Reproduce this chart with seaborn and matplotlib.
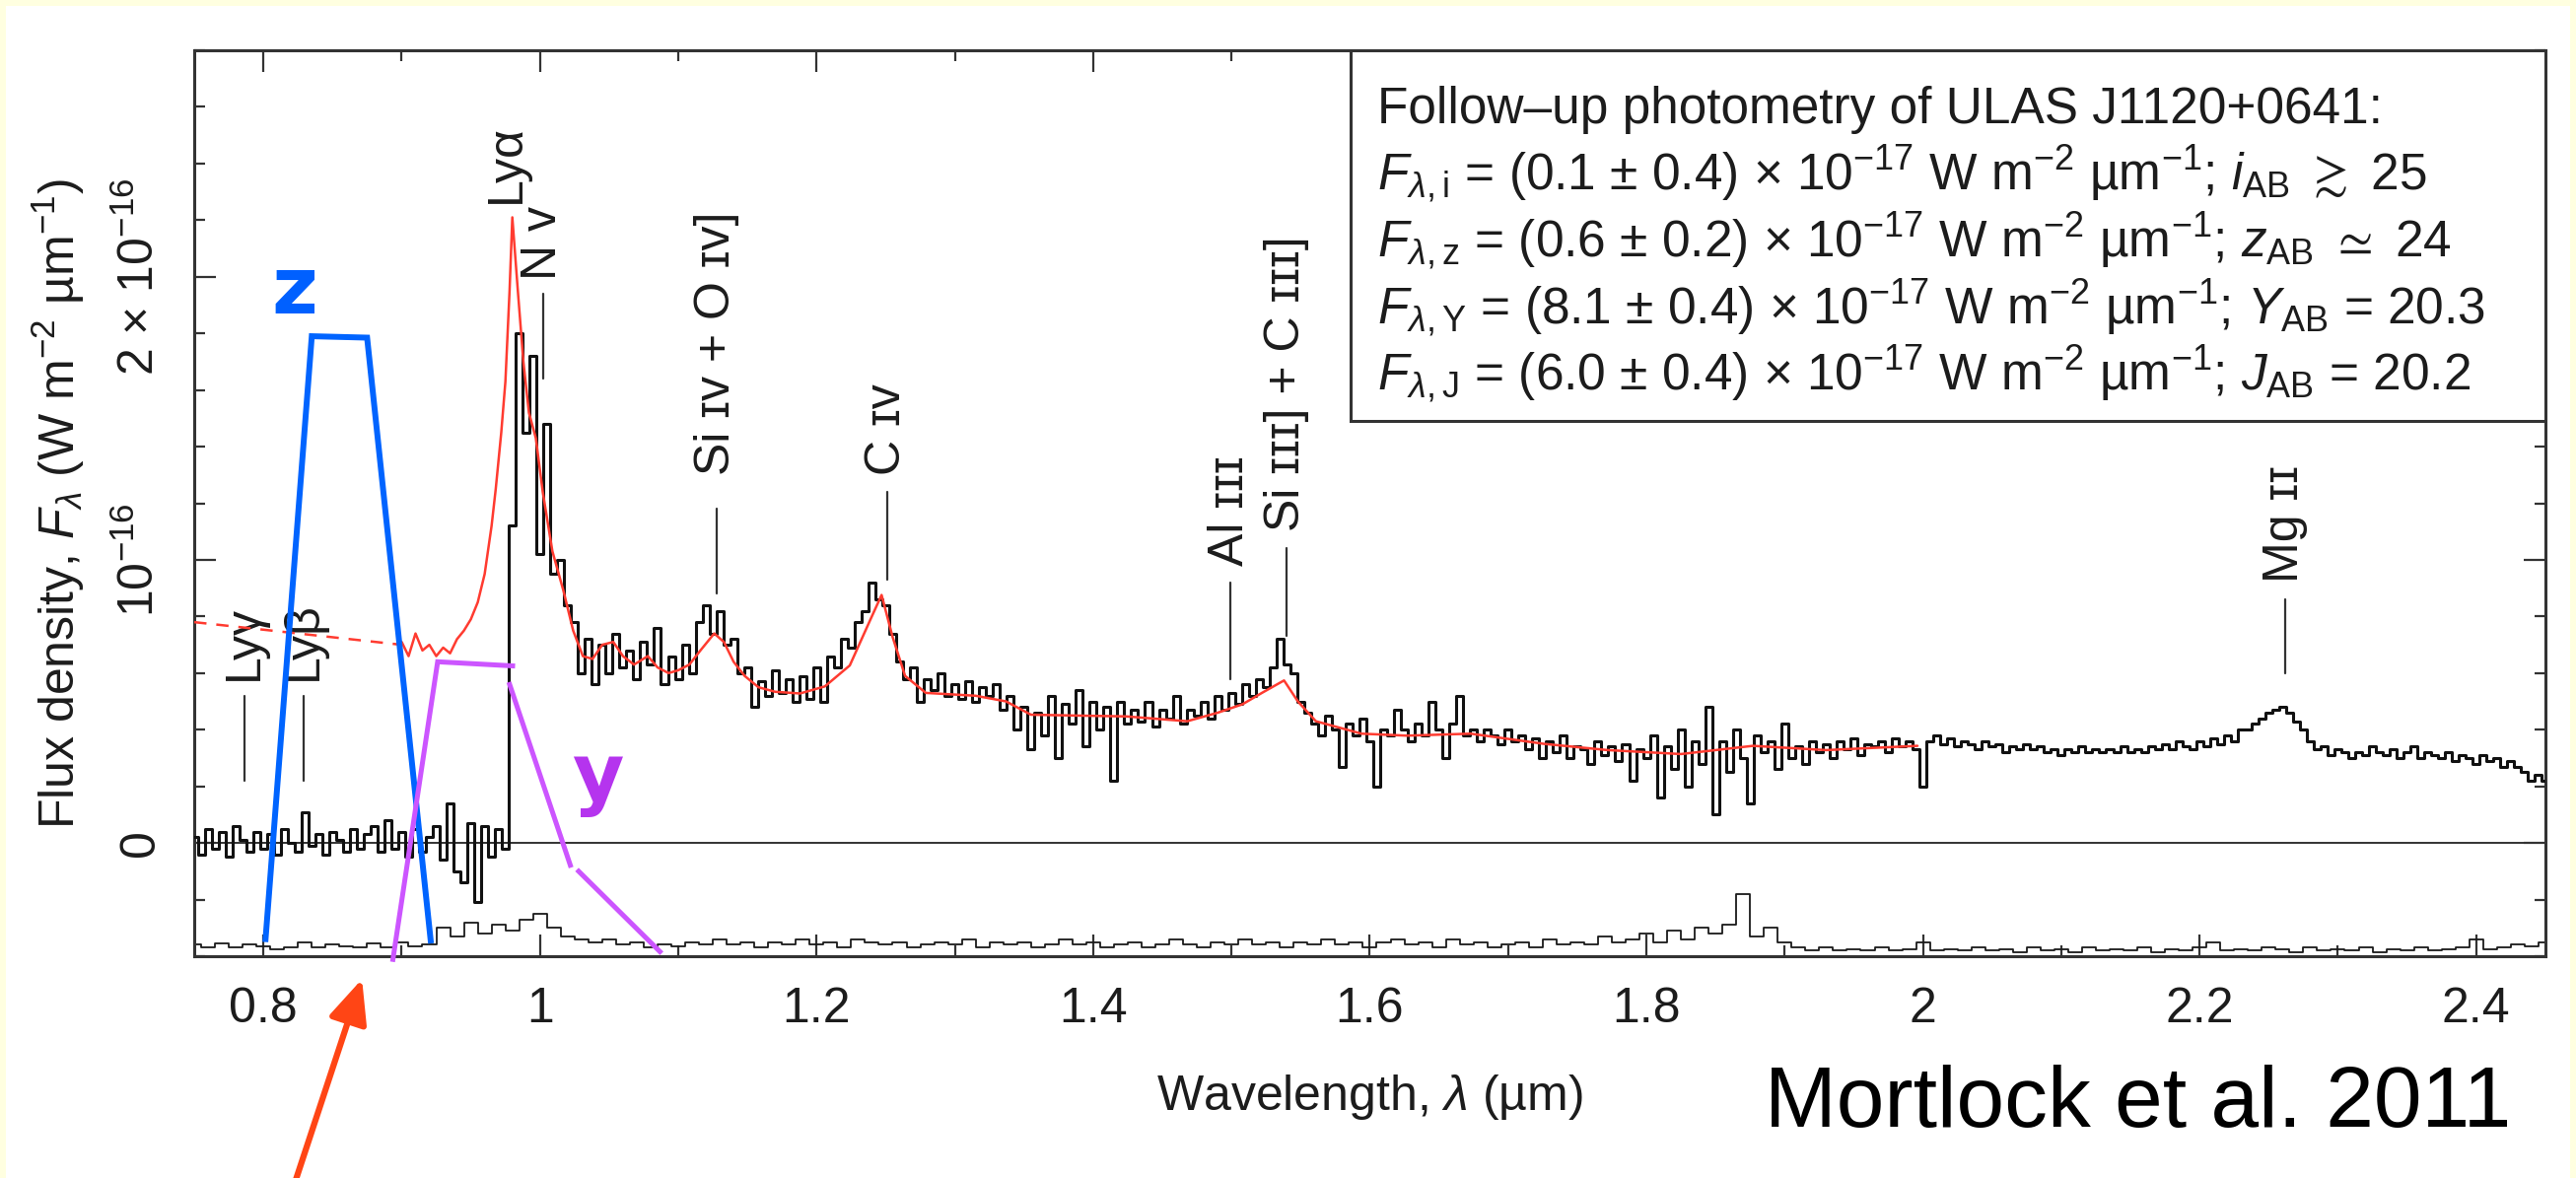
import numpy as np
import pandas as pd
import matplotlib
matplotlib.use("Agg")
import matplotlib.pyplot as plt
import seaborn as sns
from matplotlib.patches import Rectangle
from matplotlib.ticker import MultipleLocator

# ---- data (flux in units of 1e-16 W m^-2 um^-1, wavelength in um) ----
STEP = 0.005
# black spectrum, read in pieces, each sampled every STEP from its start
blue_side_start = 0.750
blue_side_flux = [0.02, -0.04, 0.05, -0.02, 0.04, -0.05, 0.06, 0.01, -0.03, 0.04,
                  -0.02, 0.03, -0.04, 0.05, 0.00, -0.03, 0.11, -0.01, 0.03, -0.04,
                  0.04, 0.01, -0.03, 0.05, -0.02, 0.03, 0.06, -0.03, 0.08, -0.02,
                  0.04, -0.05, 0.05, -0.03, 0.02, 0.06, -0.06, 0.14, -0.10, -0.14,
                  0.07, -0.21, 0.06, -0.05, 0.05, -0.02]
lya_start = 0.980
lya_flux = [1.12, 1.80, 1.45, 1.72, 1.02, 1.48, 0.95, 1.00, 0.84, 0.78,
            0.60, 0.72, 0.56, 0.70, 0.60, 0.74, 0.62, 0.68, 0.58, 0.71,
            0.63, 0.76, 0.56, 0.66]
civ_start = 1.100
civ_flux = [0.58, 0.70, 0.60, 0.78, 0.84, 0.74, 0.82, 0.70, 0.72, 0.60,
            0.62, 0.48, 0.57, 0.52, 0.61, 0.53, 0.58, 0.50, 0.59, 0.51,
            0.62, 0.50, 0.66, 0.62, 0.72, 0.69, 0.78, 0.82, 0.92, 0.86,
            0.84, 0.74, 0.64, 0.58, 0.62, 0.50, 0.58, 0.54, 0.60, 0.52]
siii_start = 1.300
siii_flux = [0.56, 0.51, 0.57, 0.50, 0.55, 0.52, 0.56, 0.47, 0.52, 0.40,
             0.48, 0.33, 0.46, 0.38, 0.52, 0.30, 0.49, 0.42, 0.54, 0.34,
             0.50, 0.40, 0.48, 0.22, 0.50, 0.42, 0.47, 0.43, 0.50, 0.41,
             0.47, 0.44, 0.52, 0.42, 0.47, 0.45, 0.50, 0.44, 0.52, 0.47,
             0.53, 0.49, 0.56, 0.52, 0.58, 0.55, 0.62, 0.72, 0.63, 0.60,
             0.50, 0.46, 0.42, 0.38, 0.45, 0.40, 0.27, 0.42, 0.38, 0.44]
nir_start = 1.600
nir_flux = [0.36, 0.20, 0.40, 0.38, 0.47, 0.40, 0.36, 0.42, 0.38, 0.50,
            0.40, 0.30, 0.42, 0.52, 0.38, 0.40, 0.36, 0.40, 0.38, 0.35,
            0.40, 0.36, 0.38, 0.33, 0.37, 0.30, 0.36, 0.32, 0.38, 0.30,
            0.34, 0.33, 0.28, 0.36, 0.31, 0.34, 0.29, 0.35, 0.22, 0.33,
            0.30, 0.38, 0.16, 0.34, 0.26, 0.40, 0.20, 0.36, 0.28, 0.48,
            0.10, 0.36, 0.25, 0.40, 0.30, 0.14, 0.38, 0.32, 0.36, 0.26,
            0.42, 0.30, 0.34, 0.28, 0.36, 0.32, 0.35, 0.30, 0.36, 0.33,
            0.37, 0.31, 0.35, 0.34, 0.36, 0.32, 0.37, 0.34, 0.36, 0.33]
mgii_start = 2.000
mgii_flux = [0.20, 0.36, 0.38, 0.35, 0.37, 0.34, 0.36, 0.35, 0.33, 0.36,
             0.34, 0.35, 0.32, 0.34, 0.33, 0.35, 0.33, 0.34, 0.32, 0.33,
             0.31, 0.33, 0.32, 0.34, 0.32, 0.33, 0.32, 0.33, 0.32, 0.34,
             0.32, 0.33, 0.32, 0.34, 0.33, 0.35, 0.33, 0.36, 0.34, 0.33,
             0.36, 0.34, 0.37, 0.35, 0.38, 0.36, 0.40, 0.40, 0.42, 0.44,
             0.46, 0.47, 0.48, 0.46, 0.43, 0.40, 0.36, 0.33, 0.34, 0.31,
             0.33, 0.32, 0.30, 0.32, 0.31, 0.34, 0.32, 0.31, 0.33, 0.30,
             0.32, 0.34, 0.30, 0.32, 0.31, 0.30, 0.32, 0.29, 0.31, 0.30,
             0.28, 0.31, 0.29, 0.30, 0.27, 0.29, 0.27, 0.25, 0.22, 0.24,
             0.22]

# red composite quasar spectrum
red_dash_wave = [0.75, 0.90]
red_dash_flux = [0.78, 0.70]
red_wave = [0.900, 0.905, 0.910, 0.915, 0.920, 0.925, 0.930, 0.935, 0.940, 0.945,
            0.950, 0.955, 0.960, 0.965, 0.968, 0.972, 0.975, 0.978, 0.980, 0.984,
            0.988, 0.992, 0.997, 1.002, 1.009, 1.017, 1.024, 1.031, 1.038, 1.045,
            1.053, 1.060, 1.068, 1.078, 1.085, 1.093, 1.100, 1.108, 1.116, 1.126,
            1.133, 1.140, 1.148, 1.158, 1.170, 1.188, 1.206, 1.224, 1.239, 1.247,
            1.255, 1.264, 1.279, 1.315, 1.337, 1.355, 1.388, 1.424, 1.468, 1.490,
            1.508, 1.522, 1.538, 1.548, 1.561, 1.594, 1.627, 1.673, 1.726, 1.772,
            1.825, 1.877, 1.930, 1.996]
red_flux = [0.71, 0.66, 0.74, 0.68, 0.70, 0.66, 0.69, 0.67, 0.72, 0.75,
            0.79, 0.85, 0.95, 1.12, 1.25, 1.45, 1.63, 1.95, 2.21, 1.95,
            1.70, 1.52, 1.43, 1.24, 1.03, 0.89, 0.75, 0.66, 0.65, 0.70,
            0.71, 0.66, 0.63, 0.66, 0.62, 0.60, 0.61, 0.63, 0.68, 0.74,
            0.71, 0.64, 0.59, 0.55, 0.534, 0.528, 0.553, 0.627, 0.79, 0.876,
            0.727, 0.59, 0.53, 0.52, 0.50, 0.453, 0.45, 0.447, 0.43, 0.46,
            0.49, 0.53, 0.574, 0.50, 0.43, 0.386, 0.379, 0.386, 0.35, 0.328,
            0.314, 0.343, 0.328, 0.343]

# noise spectrum along the bottom, every 0.01 um from 0.75
noise_start = 0.75
noise_step = 0.01
noise_flux = [-0.36, -0.37, -0.355, -0.37, -0.36, -0.365, -0.375, -0.37, -0.35, -0.37,
              -0.36, -0.365, -0.37, -0.355, -0.37, -0.35, -0.365, -0.36, -0.30, -0.33,
              -0.28, -0.32, -0.29, -0.31, -0.27, -0.25, -0.30, -0.33, -0.34, -0.35,
              -0.34, -0.36, -0.35, -0.37, -0.36, -0.365, -0.35, -0.36, -0.34, -0.36,
              -0.35, -0.37, -0.35, -0.36, -0.34, -0.36, -0.35, -0.37, -0.34, -0.35,
              -0.36, -0.35, -0.37, -0.36, -0.35, -0.36, -0.34, -0.37, -0.35, -0.36,
              -0.35, -0.37, -0.36, -0.34, -0.36, -0.35, -0.37, -0.36, -0.35, -0.37,
              -0.36, -0.34, -0.36, -0.37, -0.35, -0.36, -0.34, -0.36, -0.35, -0.37,
              -0.35, -0.36, -0.34, -0.36, -0.35, -0.37, -0.35, -0.34, -0.36, -0.35,
              -0.37, -0.34, -0.36, -0.35, -0.37, -0.36, -0.35, -0.37, -0.34, -0.36,
              -0.35, -0.36, -0.33, -0.35, -0.34, -0.32, -0.35, -0.31, -0.34, -0.30,
              -0.32, -0.29, -0.18, -0.33, -0.30, -0.35, -0.37, -0.38, -0.37, -0.38,
              -0.375, -0.38, -0.37, -0.38, -0.375, -0.35, -0.38, -0.375, -0.38, -0.37,
              -0.38, -0.375, -0.385, -0.37, -0.38, -0.375, -0.385, -0.37, -0.38, -0.375,
              -0.38, -0.37, -0.385, -0.375, -0.38, -0.37, -0.35, -0.38, -0.375, -0.38,
              -0.37, -0.375, -0.385, -0.37, -0.38, -0.375, -0.38, -0.37, -0.385, -0.375,
              -0.38, -0.37, -0.38, -0.375, -0.37, -0.34, -0.375, -0.37, -0.36, -0.365,
              -0.35]

# emission line markers
line_names = ["Ly\u03b3", "Ly\u03b2", "N \u1d20", "Si \u026a\u1d20 + O \u026a\u1d20]", "C \u026a\u1d20",
              "Al \u026a\u026a\u026a", "Si \u026a\u026a\u026a] + C \u026a\u026a\u026a]", "Mg \u026a\u026a"]
line_wave = [0.786, 0.829, 1.002, 1.128, 1.251, 1.499, 1.540, 2.262]
line_low = [0.22, 0.22, 1.64, 0.88, 0.93, 0.58, 0.73, 0.60]
line_high = [0.52, 0.52, 1.94, 1.18, 1.24, 0.92, 1.04, 0.86]
line_text_y = [0.575, 0.575, 1.99, 1.30, 1.30, 0.98, 1.10, 0.92]
lya_wave = 0.976
lya_text_y = 2.26

# hand-drawn filter curves
z_filter_wave = [0.8014, 0.835, 0.875, 0.9212]
z_filter_resp = [-0.35, 1.79, 1.785, -0.355]
y_filter_parts = [([0.8934, 0.926, 0.982], [-0.42, 0.64, 0.625]),
                  ([0.9775, 1.0225], [0.568, -0.087]),
                  ([1.0267, 1.088], [-0.094, -0.39])]

xtick_vals = [0.8, 1.0, 1.2, 1.4, 1.6, 1.8, 2.0, 2.2, 2.4]
xtick_labels = ["0.8", "1", "1.2", "1.4", "1.6", "1.8", "2", "2.2", "2.4"]
ytick_vals = [0, 1, 2]
ytick_labels = ["0", "10$^{-16}$", "2 \u00d7 10$^{-16}$"]

UNIT = " \u00d7 10$^{-17}$ W m$^{-2}$ \u00b5m$^{-1}$; "
box_lines = [
    "Follow\u2013up photometry of ULAS J1120+0641:",
    "$F_{\\lambda,\\mathrm{i}}$ = (0.1 \u00b1 0.4)" + UNIT + "$i_{\\mathrm{AB}}$ $\\gtrsim$ 25",
    "$F_{\\lambda,\\mathrm{z}}$ = (0.6 \u00b1 0.2)" + UNIT + "$z_{\\mathrm{AB}}$ $\\simeq$ 24",
    "$F_{\\lambda,\\mathrm{Y}}$ = (8.1 \u00b1 0.4)" + UNIT + "$Y_{\\mathrm{AB}}$ = 20.3",
    "$F_{\\lambda,\\mathrm{J}}$ = (6.0 \u00b1 0.4)" + UNIT + "$J_{\\mathrm{AB}}$ = 20.2",
]
box_line_y = [0.9195, 0.845, 0.771, 0.697, 0.625]

# ---- style ----
sns.set_theme(style="ticks")
plt.rcParams["font.family"] = ["Liberation Sans", "DejaVu Sans"]
plt.rcParams["mathtext.fontset"] = "custom"
plt.rcParams["mathtext.rm"] = "Liberation Sans"
plt.rcParams["mathtext.it"] = "Liberation Sans:italic"
plt.rcParams["mathtext.bf"] = "Liberation Sans:bold"
plt.rcParams["mathtext.fallback"] = "stixsans"
TXT = "#1c1c1c"
FS = 36


def piece(start, flux, step=STEP):
    return pd.DataFrame({"wave": start + step * np.arange(len(flux)), "flux": flux})


black = pd.concat([piece(blue_side_start, blue_side_flux), piece(lya_start, lya_flux),
                   piece(civ_start, civ_flux), piece(siii_start, siii_flux),
                   piece(nir_start, nir_flux), piece(mgii_start, mgii_flux)], ignore_index=True)
noise = piece(noise_start, noise_flux, noise_step)
red = pd.DataFrame({"wave": red_wave, "flux": red_flux})

fig = plt.figure(figsize=(26.13, 11.95), dpi=100)
fig.patch.set_facecolor("#FFFFE0")
fig.add_artist(Rectangle((6 / 2613, 0), 1 - 12 / 2613, 1 - 6 / 1195, transform=fig.transFigure,
                         facecolor="white", edgecolor="none", zorder=-5))
ax = fig.add_axes([0.0754, 0.1883, 0.9127, 0.769])
ax.set_facecolor("white")

ax.axhline(0, color="#333333", lw=1.4, zorder=1)
sns.lineplot(data=noise, x="wave", y="flux", ax=ax, color="#1a1a1a", lw=1.3,
             drawstyle="steps-mid", estimator=None, zorder=2)
sns.lineplot(data=black, x="wave", y="flux", ax=ax, color="#111111", lw=2.2,
             drawstyle="steps-mid", estimator=None, zorder=3)
ax.plot(red_dash_wave, red_dash_flux, color="#ff3b30", lw=1.8, ls=(0, (5, 4)), zorder=4)
sns.lineplot(data=red, x="wave", y="flux", ax=ax, color="#ff3b30", lw=1.8,
             estimator=None, sort=False, zorder=4)

for name, w, lo, hi, ty in zip(line_names, line_wave, line_low, line_high, line_text_y):
    ax.plot([w, w], [lo, hi], color="#333333", lw=1.6, zorder=3)
    ax.text(w, ty, name, rotation=90, ha="center", va="bottom", fontsize=FS, color=TXT)
ax.text(lya_wave, lya_text_y, "Ly\u03b1", rotation=90, ha="center", va="bottom",
        fontsize=FS, color=TXT)

# filter curves
ax.plot(z_filter_wave, z_filter_resp, color="#0064ff", lw=4.3, zorder=6,
        solid_capstyle="butt", solid_joinstyle="miter")
for wv, rs in y_filter_parts:
    ax.plot(wv, rs, color="#cc55ff", lw=3.6, zorder=6, clip_on=False,
            solid_capstyle="butt", solid_joinstyle="miter")
ax.text(0.8228, 1.871, "z", color="#0060ff", fontsize=58, fontweight="bold",
        family="DejaVu Sans", ha="center", va="baseline", zorder=7)
ax.text(1.0417, 0.15, "y", color="#b534ee", fontsize=58, fontweight="bold",
        family="DejaVu Sans", ha="center", va="baseline", zorder=7)

# arrow below the axis
ax.annotate("", xy=(0.8713, -0.481), xytext=(0.8221, -1.21), annotation_clip=False,
            arrowprops=dict(arrowstyle="-|>,head_length=1.35,head_width=0.6", mutation_scale=20,
                            color="#ff4515", lw=4.5, shrinkA=0, shrinkB=0))

# photometry box
ax.add_patch(Rectangle((0.4918, 0.591), 0.5082, 0.409, transform=ax.transAxes,
                       facecolor="white", edgecolor="#333333", lw=2.2, zorder=8))
for s, yy in zip(box_lines, box_line_y):
    ax.text(0.503, yy, s, transform=ax.transAxes,
            fontsize=37, color=TXT, va="baseline", ha="left", zorder=9)

ax.set_xlim(0.75, 2.45)
ax.set_ylim(-0.4, 2.8)
ax.set_xticks(xtick_vals)
ax.set_xticklabels(xtick_labels)
ax.set_yticks(ytick_vals)
ax.set_yticklabels(ytick_labels, rotation=90, va="center")
ax.xaxis.set_minor_locator(MultipleLocator(0.1))
ax.yaxis.set_minor_locator(MultipleLocator(0.2))
ax.tick_params(which="both", direction="in", top=True, right=True, colors="#333333",
               labelcolor=TXT, labelsize=FS)
ax.tick_params(which="major", length=16, width=1.6, pad=22)
ax.tick_params(which="minor", length=8, width=1.6)
for sp in ax.spines.values():
    sp.set_color("#333333")
    sp.set_linewidth(2.2)

ax.set_xlabel("Wavelength, $\\lambda$ (\u00b5m)", fontsize=FS, color=TXT, labelpad=30)
ax.set_ylabel("Flux density, $F_\\lambda$ (W m$^{-2}$ \u00b5m$^{-1}$)", fontsize=FS,
              color=TXT, labelpad=22)

fig.text(1790 / 2613, 1 - 1143 / 1195, "Mortlock et al. 2011", fontsize=63, color="black",
         ha="left", va="baseline")

fig.savefig("out.png", dpi=100)
